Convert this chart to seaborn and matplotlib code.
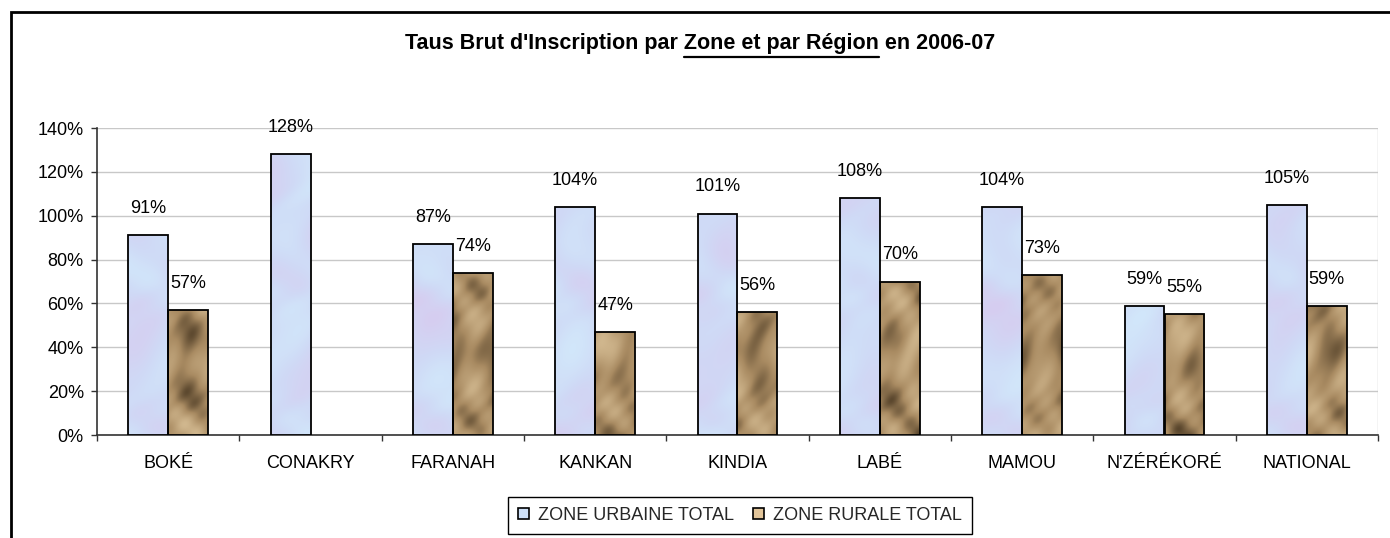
import numpy as np
import pandas as pd
import matplotlib
matplotlib.use("Agg")
import matplotlib.pyplot as plt
import seaborn as sns
from matplotlib.patches import Patch, Rectangle
from matplotlib.lines import Line2D
from matplotlib.ticker import PercentFormatter, FixedLocator

# data (percent)
regions = ["BOKÉ", "CONAKRY", "FARANAH", "KANKAN", "KINDIA", "LABÉ", "MAMOU", "N'ZÉRÉKORÉ", "NATIONAL"]
zones = ["ZONE URBAINE TOTAL", "ZONE RURALE TOTAL"]
urbaine = [91, 128, 87, 104, 101, 108, 104, 59, 105]
rurale = [57, np.nan, 74, 47, 56, 70, 73, 55, 59]

df = pd.DataFrame({
    "region": regions * 2,
    "zone": [zones[0]] * len(regions) + [zones[1]] * len(regions),
    "taux": urbaine + rurale,
})

urb_col = "#cddff7"
rur_col = "#a98b62"

sns.set_theme(style="white")
plt.rcParams["font.family"] = ["Liberation Sans", "DejaVu Sans"]

W, H = 1390, 538
fig = plt.figure(figsize=(W / 100, H / 100), dpi=100)
ax = fig.add_axes([97 / W, 1 - 435 / H, (1378 - 97) / W, (435 - 128) / H])

sns.barplot(data=df, x="region", y="taux", hue="zone", order=regions, hue_order=zones,
            palette=[urb_col, rur_col], width=0.562, edgecolor="black", linewidth=1.3,
            legend=False, ax=ax, zorder=3)

ax.set_xlim(-0.5, len(regions) - 0.5)
ax.set_ylim(0, 140)
ax.set_yticks(range(0, 141, 20))
ax.yaxis.set_major_formatter(PercentFormatter(xmax=100, decimals=0))
ax.set_xlabel("")
ax.set_ylabel("")

# grid and spines like the Excel chart
ax.grid(axis="y", color="#c8c8c8", linewidth=1, zorder=0)
ax.set_axisbelow(True)
for side in ["top", "right"]:
    ax.spines[side].set_visible(False)
ax.spines["left"].set_color("#333333")
ax.spines["bottom"].set_color("#333333")
ax.spines["left"].set_linewidth(1.2)
ax.spines["bottom"].set_linewidth(1.2)
ax.axvline(len(regions) - 0.5, color="#c8c8c8", linewidth=1, zorder=0)

ax.tick_params(axis="y", which="major", direction="out", length=4.5, width=1, color="#333333",
               pad=5, labelsize=13, labelcolor="black", left=True)
ax.tick_params(axis="x", which="major", length=0, pad=14.5, labelsize=13, labelcolor="black")
ax.xaxis.set_minor_locator(FixedLocator(np.arange(-0.5, len(regions), 1.0)))
ax.tick_params(axis="x", which="minor", direction="out", length=4, width=1, color="#333333", bottom=True)


# textures inside the bars (deterministic pattern, only for looks)
def texture(h, w, light, mid, dark, sx, sy, sharp):
    yy, xx = np.mgrid[0:h, 0:w].astype(float)
    n = (np.sin(xx * 0.11 * sx + yy * 0.05 * sy + np.sin(yy * 0.04) * 2.0)
         + 0.8 * np.sin(xx * 0.05 * sx - yy * 0.09 * sy + 2.0 + np.sin(xx * 0.03) * 1.5)
         + 0.5 * np.sin((xx * 0.8 + yy) * 0.07 * sx + 0.7)
         + 0.3 * np.sin(xx * 0.23 * sx - yy * 0.19 * sy + 1.3 + np.cos(yy * 0.06) * 2.0)
         + 0.5 * np.sin(xx * 0.021 + yy * 0.033 + 0.4))
    n = (n - n.min()) / (n.max() - n.min())
    n = n ** sharp
    light, mid, dark = (np.array(matplotlib.colors.to_rgb(c)) for c in (light, mid, dark))
    low = n[..., None] < 0.5
    t = np.where(low, n[..., None] * 2, (n[..., None] - 0.5) * 2)
    img = np.where(low, dark + (mid - dark) * t, mid + (light - mid) * t)
    return np.clip(img, 0, 1)


tex_u = texture(307, 1283, "#d2e9fb", "#cfdaf6", "#d6cdf0", 0.6, 0.6, 1.0)
tex_r = texture(307, 1283, "#d4bb92", "#a98b62", "#4f3d26", 1.3, 1.1, 0.85)

for cont, tex in zip(ax.containers, [tex_u, tex_r]):
    for bar in cont:
        if np.isnan(bar.get_height()):
            continue
        im = ax.imshow(tex, extent=(-0.5, len(regions) - 0.5, 0, 140), origin="lower",
                       aspect="auto", interpolation="bilinear", zorder=3.1)
        im.set_clip_path(bar)
        bar.set_facecolor("none")
        bar.set_zorder(3.2)
    labels = ["" if np.isnan(v) else f"{v:.0f}%" for v in cont.datavalues]
    ax.bar_label(cont, labels=labels, padding=13, fontsize=13, color="black")

ax.set_xlim(-0.5, len(regions) - 0.5)
ax.set_ylim(0, 140)

# legend
handles = [Patch(facecolor=urb_col, edgecolor="black", linewidth=1.2),
           Patch(facecolor="#e2c59a", edgecolor="black", linewidth=1.2)]
leg = fig.legend(handles, zones, loc="upper center", bbox_to_anchor=(740 / W, 1 - 497 / H),
                 ncol=2, fontsize=13, frameon=True, fancybox=False, edgecolor="black",
                 framealpha=1, handlelength=0.6, handleheight=0.6, handletextpad=0.5,
                 columnspacing=1.1, borderpad=0.55, borderaxespad=0)
leg.get_frame().set_linewidth(1)

# outer chart frame (its right and bottom sides are off the picture)
fig.add_artist(Rectangle((10.5 / W, -0.05), 1.2, 1 - 11.5 / H + 0.05, transform=fig.transFigure,
                         fill=False, edgecolor="black", linewidth=2, clip_on=False))

# title with the underlined part
pre = "Taus Brut d'Inscription par "
und = "Zone et par Région"
post = " en 2006-07"
tsize = 15.5
title = fig.text(700 / W, 1 - 44 / H, pre + und + post, ha="center", va="center",
                 fontsize=tsize, fontweight="bold", color="black")
renderer = fig.canvas.get_renderer()
tb = title.get_window_extent(renderer)
tmp = fig.text(0, 0, pre + und, fontsize=tsize, fontweight="bold")
w_end = tmp.get_window_extent(renderer).width
tmp.set_text(und)
w_und = tmp.get_window_extent(renderer).width
tmp.remove()
x_end = tb.x0 + w_end
x_start = x_end - w_und
y_line = H - 57
fig.add_artist(Line2D([x_start / W, x_end / W], [y_line / H, y_line / H], transform=fig.transFigure,
                      color="black", linewidth=1.6))

fig.savefig("out.png", dpi=100)
